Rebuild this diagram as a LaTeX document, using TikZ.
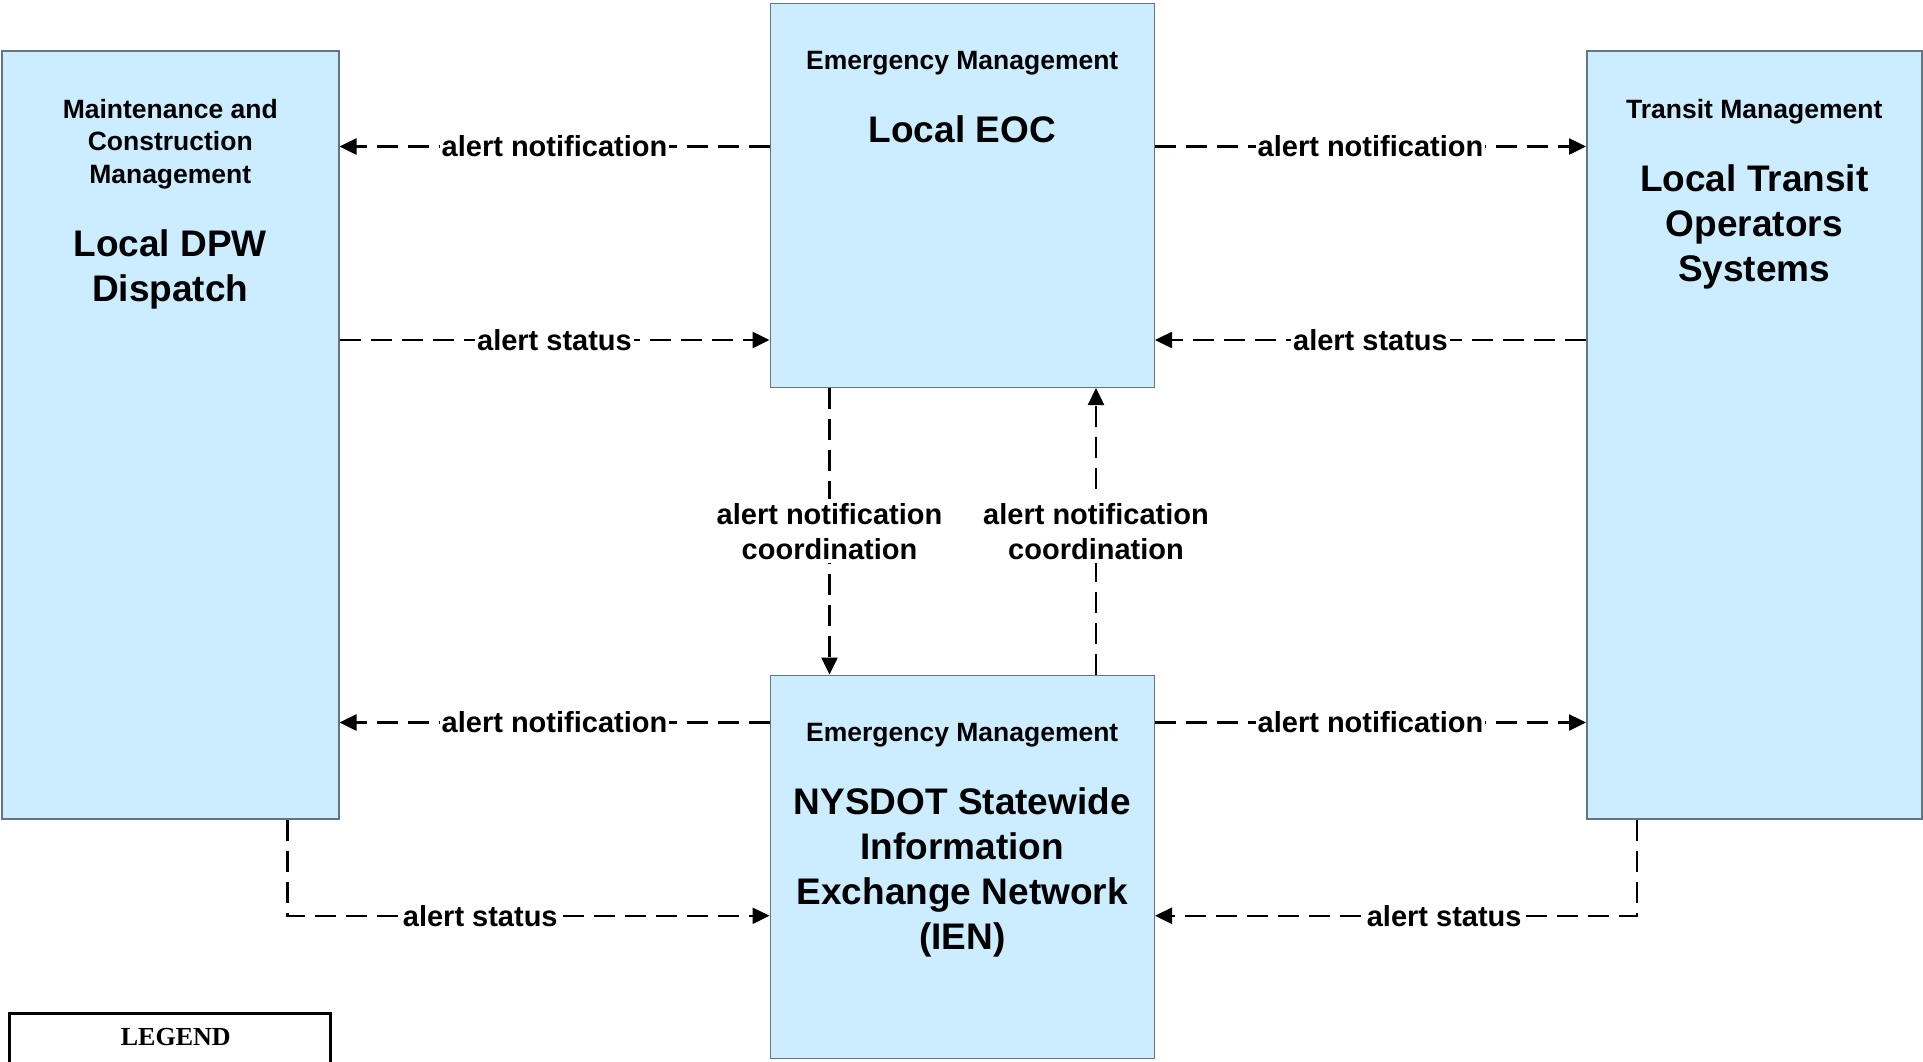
\documentclass[tikz,border=0pt]{standalone}
\usepackage{fontspec}
\setmainfont{Liberation Sans}
\newfontfamily\legendfont{Liberation Serif}
\usetikzlibrary{positioning,arrows.meta}
\definecolor{boxfill}{RGB}{204,236,255}
\definecolor{boxline}{RGB}{100,116,130}

\begin{document}
\begin{tikzpicture}[
    x=1pt,y=-1pt,
    sysbox/.style={
      draw=boxline,fill=boxfill,line width=1.5pt,
      anchor=north west,inner sep=0pt
    },
    cattext/.style={
      font=\fontsize{26.5}{32.5}\selectfont\bfseries,
      align=center,inner sep=0pt
    },
    nametext/.style={
      font=\fontsize{37}{45}\selectfont\bfseries,
      align=center,inner sep=0pt
    },
    flow/.style={
      line width=2.5pt,dash pattern=on 21pt off 10pt,
      -{Triangle[length=17pt,width=16pt]}
    },
    flowlabel/.style={
      font=\fontsize{29}{35}\selectfont\bfseries,
      fill=white,inner xsep=2pt,inner ysep=4pt,align=center
    },
    legendbox/.style={
      draw,line width=2.5pt,anchor=north west,inner sep=0pt
    }
  ]
  \useasboundingbox (0,0) rectangle (1923,1061);

  % systems
  \node[sysbox,minimum width=337pt,minimum height=768pt] (dpw) at (1,50) {};
  \node[sysbox,minimum width=384pt,minimum height=384pt] (eoc) at (769.5,2.5) {};
  \node[sysbox,minimum width=384pt,minimum height=383pt] (ien) at (769.5,674.5) {};
  \node[sysbox,minimum width=335pt,minimum height=768pt] (tos) at (1586,50) {};

  \node[cattext,below=49pt of dpw.north] (dpwcat) {Maintenance and\\Construction\\Management};
  \node[nametext,below=40pt of dpwcat] (dpwname) {Local DPW\\Dispatch};

  \node[cattext,below=49pt of eoc.north] (eoccat) {Emergency Management};
  \node[nametext,below=40pt of eoccat] (eocname) {Local EOC};

  \node[cattext,below=49pt of ien.north] (iencat) {Emergency Management};
  \node[nametext,below=40pt of iencat] (ienname) {NYSDOT Statewide\\Information\\Exchange Network\\(IEN)};

  \node[cattext,below=49pt of tos.north] (toscat) {Transit Management};
  \node[nametext,below=40pt of toscat] (tosname) {Local Transit\\Operators\\Systems};

  % flows
  \draw[flow] ([yshift=-144pt]eoc.north west) -- ([yshift=-144pt]eoc.north west -| dpw.east)
    node[flowlabel,midway] (an1) {alert notification};
  \draw[flow] ([yshift=48pt]eoc.south west -| dpw.east) -- ([yshift=48pt]eoc.south west)
    node[flowlabel,midway] (as1) {alert status};
  \draw[flow] ([yshift=-144pt]eoc.north east) -- ([yshift=-144pt]eoc.north east -| tos.west)
    node[flowlabel,midway] (an2) {alert notification};
  \draw[flow] ([yshift=48pt]eoc.south east -| tos.west) -- ([yshift=48pt]eoc.south east)
    node[flowlabel,midway] (as2) {alert status};

  \draw[flow] ([xshift=60pt]eoc.south west) -- ([xshift=60pt]eoc.south west |- ien.north)
    node[flowlabel,midway] (anc1) {alert notification\\coordination};
  \draw[flow] ([xshift=-59pt]ien.north east) -- ([xshift=-59pt]ien.north east |- eoc.south)
    node[flowlabel,midway] (anc2) {alert notification\\coordination};

  \draw[flow] ([yshift=-48pt]ien.north west) -- ([yshift=-48pt]ien.north west -| dpw.east)
    node[flowlabel,midway] (an3) {alert notification};
  \draw[flow] ([yshift=-48pt]ien.north east) -- ([yshift=-48pt]ien.north east -| tos.west)
    node[flowlabel,midway] (an4) {alert notification};

  \draw[flow] ([xshift=-52pt]dpw.south east) |- ([yshift=-49pt]ien.west)
    node[flowlabel,pos=0.7] (as3) {alert status};
  \draw[flow] ([xshift=51pt]tos.south west) |- ([yshift=-49pt]ien.east)
    node[flowlabel,pos=0.7] (as4) {alert status};

  % legend
  \node[legendbox,minimum width=321pt,minimum height=120pt] (legend) at (8,1012) {};
  \node[font=\legendfont\bfseries\fontsize{26}{30}\selectfont,inner sep=0pt,
    below=16pt of legend.north,xshift=6pt] (legendtitle) {LEGEND};
\end{tikzpicture}
\end{document}
